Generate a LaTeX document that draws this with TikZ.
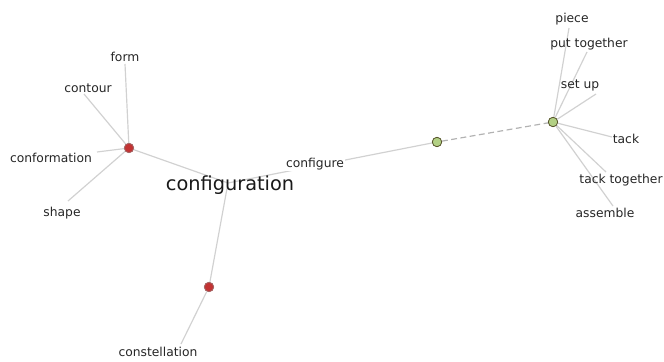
\documentclass[tikz,border=0pt]{standalone}
\usepackage{fontspec}
\setmainfont{DejaVu Sans}
\begin{document}
\begin{tikzpicture}[x=0.03cm,y=-0.03cm,
  edge/.style={draw=black!18, line width=1pt},
  dashedge/.style={draw=black!30, line width=1pt, dashed, dash pattern=on 5pt off 3pt},
  redhub/.style={circle, draw=black!60!red!60, fill=red!70!black!80, line width=0.6pt, minimum size=8pt, inner sep=0pt},
  greenhub/.style={circle, draw=black!50!olive, fill=olive!50!green!45!white, line width=0.6pt, minimum size=8pt, inner sep=0pt},
  word/.style={font=\fontsize{10.5}{11}\selectfont, text=black!85, inner sep=1pt},
  bigword/.style={font=\fontsize{16.5}{18}\selectfont, text=black!90, inner sep=1pt}]
\useasboundingbox[fill=white] (0,0) rectangle (664,362);

% hubs
\node[redhub] (r1) at (129,148) {};
\node[redhub] (r2) at (209,287) {};
\node[greenhub] (g1) at (437,142) {};
\node[greenhub] (g2) at (553,122) {};

% central word
\coordinate (c) at (228,183);

% word ends of the spokes
\coordinate (eform) at (125,64);
\coordinate (econtour) at (84,94);
\coordinate (econf) at (97,152);
\coordinate (eshape) at (68,201);
\coordinate (econst) at (181,344);
\coordinate (epiece) at (569,28);
\coordinate (eput) at (587,52);
\coordinate (eset) at (596,94);
\coordinate (etack) at (612,137);
\coordinate (etackt) at (606,172);
\coordinate (eass) at (613,206);

\draw[edge] (r1) -- (eform);
\draw[edge] (r1) -- (econtour);
\draw[edge] (r1) -- (econf);
\draw[edge] (r1) -- (eshape);
\draw[edge] (r1) -- (c);
\draw[edge] (c) -- (r2);
\draw[edge] (r2) -- (econst);
\draw[edge] (c) -- (g1);
\draw[dashedge] (g1) -- (g2);
\draw[edge] (g2) -- (epiece);
\draw[edge] (g2) -- (eput);
\draw[edge] (g2) -- (eset);
\draw[edge] (g2) -- (etack);
\draw[edge] (g2) -- (etackt);
\draw[edge] (g2) -- (eass);

% redraw hubs above the spokes
\node[redhub] at (r1) {};
\node[redhub] at (r2) {};
\node[greenhub] at (g1) {};
\node[greenhub] at (g2) {};

% labels
\node[bigword] (lconfiguration) at (230,185) {configuration};
\node[word, fill=white] (lconfigure) at (315,164) {configure};
\node[word] (lform) at (125,57) {form};
\node[word] (lcontour) at (88,88) {contour};
\node[word] (lconformation) at (51,158) {conformation};
\node[word] (lshape) at (62,213) {shape};
\node[word] (lconstellation) at (158,352) {constellation};
\node[word] (lpiece) at (572,19) {piece};
\node[word] (lput) at (589,44) {put together};
\node[word] (lset) at (580,85) {set up};
\node[word] (ltack) at (626,139) {tack};
\node[word] (ltackt) at (621,180) {tack together};
\node[word] (lass) at (605,213) {assemble};
\end{tikzpicture}
\end{document}
